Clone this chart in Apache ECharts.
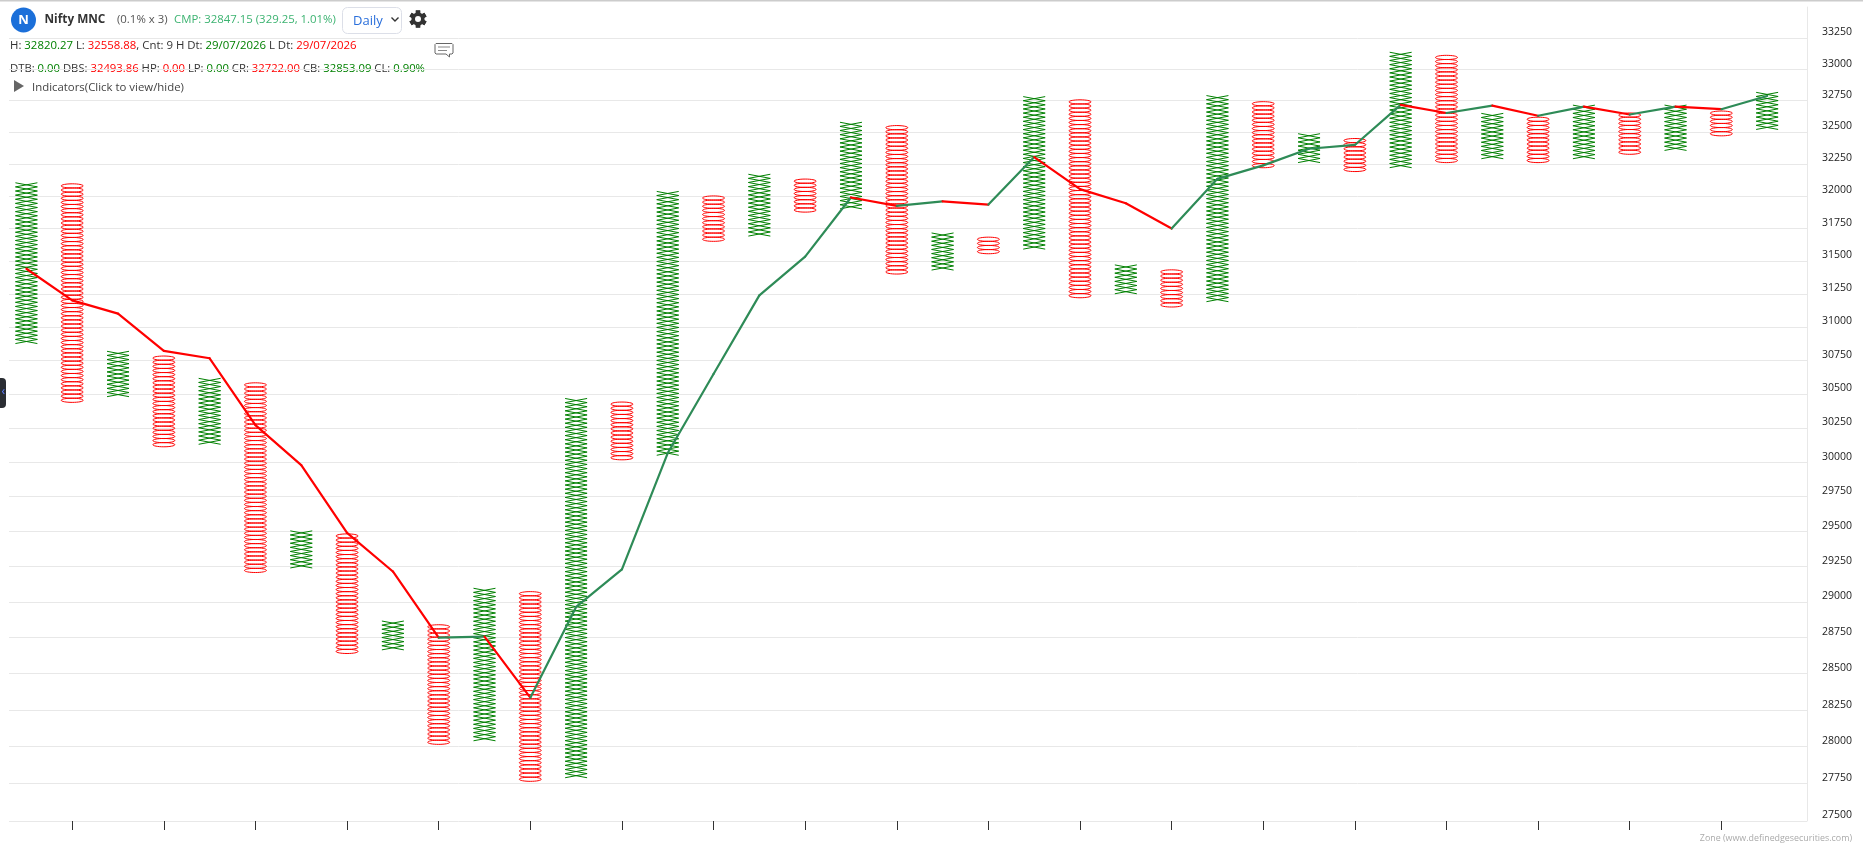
<!DOCTYPE html>
<html>
<head>
<meta charset="utf-8">
<style>html,body{margin:0;padding:0;background:#fff;overflow:hidden}#chart{width:1863px;height:863px}</style>
<script src="https://cdn.jsdelivr.net/npm/echarts@6/dist/echarts.min.js"></script>
</head>
<body>
<div id="chart"></div>
<script>
var yTicks = [27500,27750,28000,28250,28500,28750,29000,29250,29500,29750,30000,30250,30500,30750,31000,31250,31500,31750,32000,32250,32500,32750,33000,33250];
var xTicks = [1,3,5,7,9,11,13,15,17,19,21,23,25,27,29,31,33,35,37];
var columnKinds = ['X','O','X','O','X','O','X','O','X','O','X','O','X','O','X','O','X','O','X','O','X','O','X','O','X','O','X','O','X','O','X','O','X','O','X','O','X','O','X'];
var columnHighs = [32110,32078,30830,30790,30605,30575,29515,29478,28858,28830,29090,29060,30470,30445,32050,32010,32175,32140,32580,32560,31720,31680,32780,32740,31465,31425,32780,32750,32480,32450,33130,33115,32655,32620,32700,32640,32700,32650,32830];
var columnLows = [30875,30438,30480,30112,30130,29208,29240,28640,28665,28016,28040,27766,27790,30017,30050,31650,31690,31875,31900,31400,31430,31555,31590,31220,31250,31150,31190,32220,32260,32190,32220,32260,32290,32260,32290,32325,32355,32470,32520];
var averageLine = [31440,31200,31100,30820,30765,30270,29978,29490,29215,28750,28757,28335,28965,29230,30066,30648,31238,31533,31988,31923,31958,31933,32303,32053,31943,31748,32133,32238,32368,32398,32715,32650,32708,32628,32700,32638,32700,32680,32785];
var boxRatio = 1.001;

var RED = '#ff0000', GREEN = '#008000', SEA = '#2e8b57', FONT = '"Open Sans", sans-serif';

function renderBoxes(params, api) {
  var i = api.value(0), lo = api.value(1), hi = api.value(2);
  var half = api.size([1, 0])[0] * 0.24;
  var n = Math.max(1, Math.round(Math.log(hi / lo) / Math.log(boxRatio)));
  var kids = [];
  for (var k = 0; k < n; k++) {
    var v0 = lo * Math.pow(boxRatio, k), v1 = v0 * boxRatio;
    var a = api.coord([i, v0]), b = api.coord([i, v1]);
    if (columnKinds[i] === 'X') {
      kids.push({type: 'line', shape: {x1: a[0] - half, y1: a[1], x2: a[0] + half, y2: b[1]}, style: {stroke: GREEN, lineWidth: 1, fill: null}});
      kids.push({type: 'line', shape: {x1: a[0] - half, y1: b[1], x2: a[0] + half, y2: a[1]}, style: {stroke: GREEN, lineWidth: 1, fill: null}});
    } else {
      kids.push({type: 'ellipse', shape: {cx: a[0], cy: (a[1] + b[1]) / 2, rx: half, ry: 2.1}, style: {stroke: RED, lineWidth: 1, fill: 'none'}});
    }
  }
  return {type: 'group', children: kids};
}

function renderSegment(params, api) {
  var i = api.value(0), v0 = api.value(1), v1 = api.value(2);
  var a = api.coord([i, v0]), b = api.coord([i + 1, v1]);
  return {type: 'line', shape: {x1: a[0], y1: a[1], x2: b[0], y2: b[1]},
    style: {stroke: v1 >= v0 ? SEA : RED, lineWidth: 2.2, lineCap: 'round', fill: null}};
}

var boxData = columnKinds.map(function (k, i) { return [i, columnLows[i], columnHighs[i]]; });
var segData = averageLine.slice(0, -1).map(function (v, i) { return [i, v, averageLine[i + 1]]; });

var SMALL = 11.4;
function richAt(size) {
  return {
    d: {fill: '#333', fontFamily: FONT, fontSize: size},
    g: {fill: GREEN, fontFamily: FONT, fontSize: size},
    r: {fill: RED, fontFamily: FONT, fontSize: size}
  };
}
function label(x, y, text, extra) {
  var style = Object.assign({x: x, y: y, text: text, fontFamily: FONT, fontSize: SMALL, fill: '#333', verticalAlign: 'middle', align: 'left'}, extra || {});
  return {type: 'text', silent: true, style: style};
}
var gearTeeth = [0,1,2,3,4,5].map(function (k) {
  return {type: 'rect', x: 418, y: 19, rotation: k * Math.PI / 3, shape: {x: -2.2, y: -8.6, width: 4.4, height: 17.2}, style: {fill: '#333'}};
});

var graphics = [
  {type: 'rect', shape: {x: 0, y: 0, width: 1863, height: 1.5}, style: {fill: '#cccccc'}},
  {type: 'circle', shape: {cx: 23.5, cy: 20, r: 12.5}, style: {fill: '#1b6fd9'}},
  label(23.5, 20.5, 'N', {fill: '#fff', fontWeight: 'bold', fontSize: 13, align: 'center'}),
  label(44.5, 20, 'Nifty MNC', {fontWeight: 'bold', fontSize: 11.8}),
  label(117, 20, '(0.1% x 3)', {fill: '#555'}),
  label(174, 20, 'CMP: 32847.15 (329.25, 1.01%)', {fill: '#3cb371'}),
  {type: 'rect', shape: {x: 342.5, y: 7.5, width: 59, height: 26, r: 5}, style: {fill: '#fff', stroke: '#dcdfe8', lineWidth: 1}},
  label(353, 21, 'Daily', {fill: '#2a6fdb', fontSize: 13}),
  {type: 'polyline', shape: {points: [[391.5, 17.5], [395, 21], [398.5, 17.5]]}, style: {stroke: '#333', lineWidth: 1.4, fill: 'none'}}
].concat(gearTeeth).concat([
  {type: 'circle', shape: {cx: 418, cy: 19, r: 6.6}, style: {fill: '#333'}},
  {type: 'circle', shape: {cx: 418, cy: 19, r: 3}, style: {fill: '#fff'}},
  {type: 'polyline', shape: {points: [[436, 43.5], [452, 43.5], [453, 44.5], [453, 53], [452, 54], [449.5, 54], [449.5, 57], [446, 54], [436, 54], [435, 53], [435, 44.5], [436, 43.5]]}, style: {stroke: '#666', lineWidth: 1, fill: 'none'}},
  {type: 'line', shape: {x1: 438, y1: 47, x2: 450, y2: 47}, style: {stroke: '#888', lineWidth: 1}},
  {type: 'line', shape: {x1: 438, y1: 50.5, x2: 447, y2: 50.5}, style: {stroke: '#888', lineWidth: 1}},
  {type: 'text', silent: true, style: {x: 10, y: 46, verticalAlign: 'middle', rich: richAt(11.4), text: '{d|H: }{g|32820.27}{d| L: }{r|32558.88}{d|, Cnt: 9 H Dt: }{g|29/07/2026}{d| L Dt: }{r|29/07/2026}'}},
  {type: 'text', silent: true, style: {x: 10, y: 69, verticalAlign: 'middle', rich: richAt(11.3), text: '{d|DTB: }{g|0.00}{d| DBS: }{r|32493.86}{d| HP: }{r|0.00}{d| LP: }{g|0.00}{d| CR: }{r|32722.00}{d| CB: }{g|32853.09}{d| CL: }{g|0.90%}'}},
  {type: 'polygon', shape: {points: [[14, 80], [24, 86], [14, 92]]}, style: {fill: '#666'}},
  label(32, 88, 'Indicators(Click to view/hide)', {fill: '#444'}),
  {type: 'rect', shape: {x: -6, y: 378, width: 12, height: 30, r: 4}, style: {fill: '#2a2d33'}},
  label(1.5, 392, '‹', {fill: '#5b7bff', fontSize: 12}),
  label(1852, 838, 'Zone (www.definedgesecurities.com)', {fill: '#aaaaaa', fontSize: 8.9, align: 'right'})
]);

var chart = echarts.init(document.getElementById('chart'), null, {renderer: 'canvas'});
chart.setOption({
  animation: false,
  backgroundColor: '#ffffff',
  grid: {left: 9, right: 56, top: 7, bottom: 42, containLabel: false},
  xAxis: {
    type: 'value', min: -0.38, max: 38.87, position: 'bottom',
    axisLine: {show: false},
    axisTick: {show: true, length: 9, customValues: xTicks, lineStyle: {color: '#333', width: 1}},
    axisLabel: {show: false},
    splitLine: {show: false}
  },
  yAxis: {
    type: 'log', min: 27500, max: 33500, position: 'right',
    axisLine: {show: true, onZero: false, lineStyle: {color: '#e8e8e8', width: 1}},
    axisTick: {show: false, customValues: yTicks},
    axisLabel: {show: true, customValues: yTicks, align: 'right', verticalAlign: 'bottom', margin: 45, color: '#222', fontFamily: FONT, fontSize: 10.5, showMinLabel: true, showMaxLabel: true, formatter: function (v) { return String(Math.round(v)); }},
    splitLine: {show: true, customValues: yTicks, lineStyle: {color: '#e8e8e8', width: 1}}
  },
  graphic: {elements: graphics},
  series: [
    {type: 'custom', name: 'Boxes', silent: true, renderItem: renderBoxes, encode: {x: 0, y: [1, 2]}, data: boxData, z: 3, clip: false},
    {type: 'custom', name: 'Average', silent: true, renderItem: renderSegment, encode: {x: 0, y: [1, 2]}, data: segData, z: 4, clip: false}
  ]
});
</script>
</body>
</html>
